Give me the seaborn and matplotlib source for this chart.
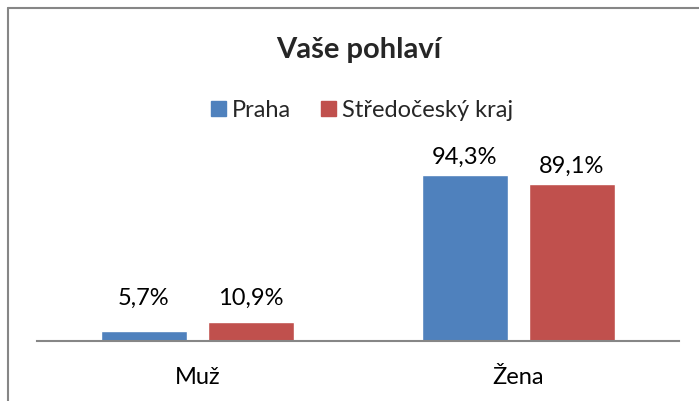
import matplotlib
matplotlib.use("Agg")
import matplotlib.pyplot as plt
import pandas as pd
import seaborn as sns

# data
categories = ["Muž", "Žena"]
regions = ["Praha", "Středočeský kraj"]
praha = [5.7, 94.3]
stredocesky = [10.9, 89.1]
colors = ["#4F81BD", "#C0504D"]

df = pd.DataFrame({
    "pohlavi": categories * 2,
    "kraj": [regions[0]] * 2 + [regions[1]] * 2,
    "pct": praha + stredocesky,
})

sns.set_theme(style="white")
plt.rcParams["font.family"] = ["Lato", "DejaVu Sans"]

fig = plt.figure(figsize=(6.99, 4.01), dpi=100)
# plot area: baseline at y=341px, 100 % at y=165px
ax = fig.add_axes([37 / 699, 60 / 401, 642 / 699, 176 / 401])

sns.barplot(data=df, x="pohlavi", y="pct", hue="kraj", order=categories,
            hue_order=regions, palette=colors, width=0.667, gap=0.196,
            saturation=1, ax=ax, legend=False)

ax.set_ylim(0, 100)
ax.set_xlim(-0.5, 1.5)
ax.set_xlabel("")
ax.set_ylabel("")
ax.set_yticks([])
for s in ["top", "left", "right"]:
    ax.spines[s].set_visible(False)
ax.spines["bottom"].set_color("#868686")
ax.spines["bottom"].set_linewidth(1.5)
ax.tick_params(axis="x", length=0, pad=19, labelsize=17, colors="black")

# data labels
for cont in ax.containers:
    for bar in cont:
        h = bar.get_height()
        ax.text(bar.get_x() + bar.get_width() / 2, max(h + 10, 24),
                f"{h:.1f}%".replace(".", ","), ha="center", va="center",
                fontsize=17, color="black", clip_on=False)

fig.text(0.513, 0.875, "Vaše pohlaví", ha="center", va="center",
         fontsize=21, fontweight="bold")

handles = [plt.Rectangle((0, 0), 1, 1, color=c) for c in colors]
fig.legend(handles, regions, loc="center", bbox_to_anchor=(0.518, 0.725),
           ncol=2, frameon=False, fontsize=17, handlelength=0.62,
           handleheight=0.62, handletextpad=0.25, columnspacing=1.3)

# chart border (only top and left visible in the crop)
fig.add_artist(plt.Line2D([7.5 / 699, 7.5 / 699], [0, 1 - 8 / 401],
                          color="#868686", lw=1.5, transform=fig.transFigure))
fig.add_artist(plt.Line2D([7.5 / 699, 1], [1 - 8 / 401, 1 - 8 / 401],
                          color="#868686", lw=1.5, transform=fig.transFigure))

fig.savefig("out.png", dpi=100)
